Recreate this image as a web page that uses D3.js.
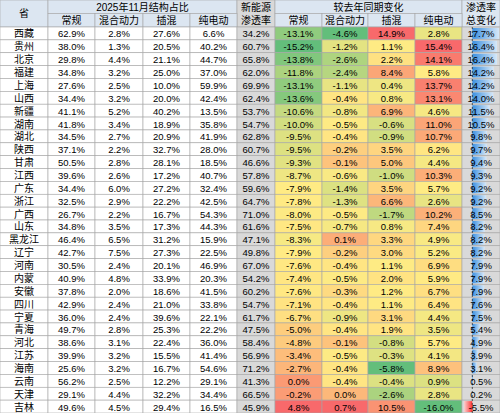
<!DOCTYPE html>
<html><head><meta charset="utf-8">
<script src="https://cdn.jsdelivr.net/npm/d3@7"></script>
<style>body{margin:0;background:#fff}</style></head>
<body><svg id="c" width="500" height="413"></svg>
<script>
const provinces=["西藏","贵州","北京","福建","上海","山西","新疆","湖南","湖北","陕西","甘肃","江西","广东","浙江","广西","山东","黑龙江","辽宁","河南","内蒙","安徽","四川","宁夏","青海","河北","江苏","海南","云南","天津","吉林"];
const shareICE=[62.9,38.0,29.8,34.8,27.6,34.4,41.1,41.8,34.5,37.1,50.5,39.6,34.4,32.5,26.7,34.8,46.4,42.7,30.5,40.9,37.8,42.9,36.0,49.7,38.6,39.9,25.6,56.2,29.1,49.6];
const shareHEV=[2.8,1.3,4.4,3.2,2.5,3.2,5.2,3.4,2.7,2.2,2.8,2.6,6.0,2.9,2.2,3.5,6.5,7.5,2.4,4.8,2.0,2.4,2.4,2.8,3.1,3.2,3.2,2.5,4.4,4.5];
const sharePHEV=[27.6,20.5,21.1,25.0,10.0,20.0,40.2,18.9,20.9,32.7,28.1,17.2,27.2,22.2,16.7,17.3,31.2,27.3,20.1,33.9,18.6,21.0,39.6,25.3,22.4,15.5,16.7,12.2,32.2,29.4];
const shareBEV=[6.6,40.2,44.7,37.0,59.9,42.4,13.5,35.8,41.9,28.0,18.5,40.7,32.4,42.5,54.3,44.3,15.9,22.5,46.9,20.3,41.5,33.8,22.1,22.2,36.0,41.4,54.6,29.1,34.4,16.5];
const nevRate=[34.2,60.7,65.8,62.0,69.9,62.4,53.7,54.7,62.8,60.7,46.6,57.8,59.6,64.7,71.0,61.6,47.1,49.8,67.0,54.2,60.2,54.7,61.7,47.5,58.4,56.9,71.2,41.3,66.5,45.9];
const chgICE=[-13.1,-15.2,-13.8,-11.8,-13.1,-13.6,-10.6,-10.0,-9.5,-9.5,-9.3,-8.7,-7.9,-7.8,-8.0,-7.5,-8.3,-7.9,-7.6,-7.4,-7.6,-7.1,-6.7,-5.0,-4.8,-3.4,-2.7,0.0,-0.2,4.8];
const chgHEV=[-4.6,-1.2,-2.6,-2.4,-1.1,-0.4,-0.8,-0.5,-0.4,-0.2,-0.1,-0.6,-1.4,-1.3,-0.5,-0.7,0.1,-0.2,-0.4,-0.5,-0.3,-0.4,-0.9,-0.4,-0.1,-0.5,-0.4,-0.4,0.0,0.7];
const chgPHEV=[14.9,1.1,2.2,8.4,0.4,0.8,6.9,-0.6,-0.9,3.5,5.0,-1.0,3.5,6.6,-1.7,0.8,3.3,3.0,1.1,2.0,1.2,1.1,3.1,1.9,-0.8,-0.3,-5.8,-0.4,-2.6,10.5];
const chgBEV=[2.8,15.4,14.1,5.8,13.7,13.1,4.6,11.0,10.7,6.2,4.4,10.3,5.7,2.6,10.2,7.4,4.9,5.2,6.9,5.9,6.7,6.4,4.4,3.5,5.7,4.1,8.9,0.9,2.8,-16.0];
const chgRate=[17.7,16.4,16.4,14.2,14.2,14.0,11.5,10.5,9.8,9.7,9.4,9.3,9.2,9.2,8.5,8.2,8.2,8.2,7.9,7.9,7.9,7.6,7.5,5.4,4.9,3.9,3.1,0.5,0.2,-5.5];
const subHeads=["常规","混合动力","插混","纯电动"];

const svg=d3.select("#c");
const edges=[0,48,95,143,190,237,275,322,368,415,462,500];
const colX=d3.scaleOrdinal().domain(d3.range(11)).range(edges.slice(0,11));
const colW=i=>edges[i+1]-edges[i];
const hTop=0,h1=13.5,h2=27;
const y=d3.scaleBand().domain(d3.range(provinces.length)).range([h2,413]);
const font="'Liberation Sans','Noto Sans CJK SC',sans-serif";
const hdr="#dce6f1",gray="#d9d9d9",line="#a6a6a6";
function cell(x,yy,w,h,fill){svg.append("rect").attr("x",x).attr("y",yy).attr("width",w).attr("height",h).attr("fill",fill).attr("stroke",line).attr("stroke-width",0.6);}
function txt(x,yy,s,size,anchor){svg.append("text").attr("x",x).attr("y",yy).attr("font-family",font).attr("font-size",size||9.5).attr("text-anchor",anchor||"middle").attr("dominant-baseline","central").attr("fill","#000").text(s);}
// headers
cell(0,0,48,h2,hdr);txt(24,h2/2,"省",10);
cell(48,0,237-48,h1,hdr);txt((48+237)/2,h1/2+0.5,"2025年11月结构占比",10);
cell(237,0,38,h2,gray);txt(256,h1/2+0.5,"新能源",10);txt(256,h1+h1/2,"渗透率",10);
cell(275,0,462-275,h1,hdr);txt((275+462)/2,h1/2+0.5,"较去年同期变化",10);
cell(462,0,38,h2,hdr);txt(481,h1/2+0.5,"渗透率",10);txt(481,h1+h1/2,"总变化",10);
subHeads.forEach((s,i)=>{[1+i,6+i].forEach(c=>{cell(colX(c),h1,colW(c),h2-h1,hdr);txt(colX(c)+colW(c)/2,h1+(h2-h1)/2,s,10);});});
const fmt=v=>v.toFixed(1)+"%";
const shares=[shareICE,shareHEV,sharePHEV,shareBEV];
const chgs=[chgICE,chgHEV,chgPHEV,chgBEV];
const scales=chgs.map(a=>d3.scaleLinear().domain([d3.min(a),d3.median(a),d3.max(a)]).range(["#63be7b","#ffeb84","#f8696b"]));
const bx=d3.scaleLinear().domain([-5.5,17.7]).range([464,499]);
provinces.forEach((p,r)=>{
  const yy=y(r),h=y.bandwidth(),cy=yy+h/2+0.5;
  cell(0,yy,48,h,"#fff");txt(24,cy,p,10);
  shares.forEach((a,i)=>{const c=1+i;cell(colX(c),yy,colW(c),h,"#fff");txt(colX(c)+colW(c)/2,cy,fmt(a[r]));});
  cell(237,yy,38,h,gray);txt(256,cy,fmt(nevRate[r]));
  chgs.forEach((a,i)=>{const c=6+i;cell(colX(c),yy,colW(c),h,scales[i](a[r]));txt(colX(c)+colW(c)/2,cy,fmt(a[r]));});
  cell(462,yy,38,h,gray);
  const v=chgRate[r],x0=bx(0),x1=bx(v);
  svg.append("rect").attr("x",Math.min(x0,x1)).attr("y",yy+1).attr("width",Math.abs(x1-x0)).attr("height",h-2).attr("fill",v>=0?"url(#gb)":"url(#gr)");
  txt(481,cy,fmt(v));
});
const defs=svg.append("defs");
const gb=defs.append("linearGradient").attr("id","gb");gb.append("stop").attr("offset","0").attr("stop-color","#3a8fe0");gb.append("stop").attr("offset","1").attr("stop-color","#d6e8f8");
const gr=defs.append("linearGradient").attr("id","gr");gr.append("stop").attr("offset","0").attr("stop-color","#fbd0d0");gr.append("stop").attr("offset","1").attr("stop-color","#f33");
svg.append("line").attr("x1",bx(0)).attr("x2",bx(0)).attr("y1",h2).attr("y2",413).attr("stroke","#000").attr("stroke-width",0.6).attr("stroke-dasharray","2,2");
</script></body></html>
